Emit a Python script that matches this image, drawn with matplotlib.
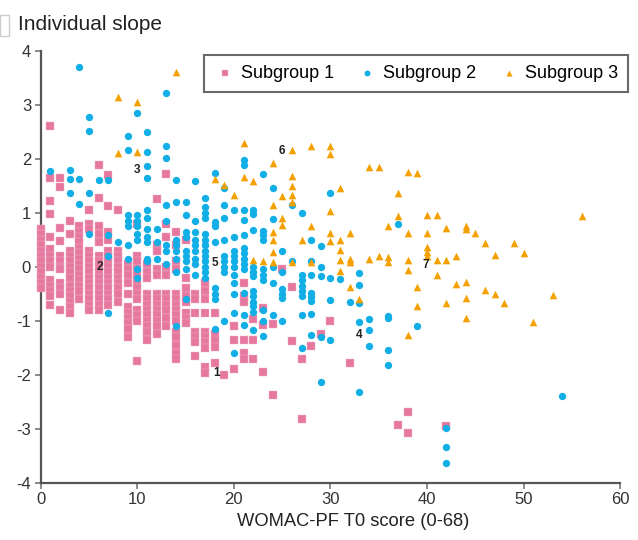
import matplotlib
matplotlib.use("Agg")
from matplotlib import pyplot
from matplotlib.patches import Rectangle

pyplot.rcParams["font.family"] = ["Liberation Sans", "DejaVu Sans"]
pyplot.rcParams["axes.unicode_minus"] = False

# Subgroup 1 (pink squares): x = T0 score, y = slope
g1_x = ([0] * 12 + [1] * 14 + [2] * 12 + [3] * 14 + [4] * 14 + [5] * 15 + [6] * 16 + [7] * 15
        + [8] * 11 + [9] * 11 + [10] * 13 + [11] * 12 + [12] * 13 + [13] * 11 + [14] * 15
        + [15] * 8 + [16] * 7 + [17] * 10 + [18] * 5 + [19] + [20] * 3 + [21] * 6 + [22] * 3
        + [23] * 3 + [24] * 2 + [25] + [26] * 2 + [27] * 2 + [28] + [29] + [30] + [32]
        + [37] + [38] * 2 + [42])
g1_y = [0.7, 0.6, 0.5, 0.4, 0.3, 0.2, 0.1, 0.0, -0.1, -0.2, -0.3, -0.4,
        2.6, 1.65, 1.22, 0.98, 0.55, 0.33, 0.2, 0.1, 0.0, -0.25, -0.35, -0.45, -0.55, -0.7,
        1.65, 1.47, 0.72, 0.48, 0.2, 0.1, 0.0, -0.05, -0.3, -0.4, -0.5, -0.8,
        0.85, 0.6, 0.3, 0.2, 0.1, 0.0, -0.1, -0.2, -0.35, -0.45, -0.55, -0.65, -0.75, -0.85,
        0.75, 0.65, 0.55, 0.45, 0.35, 0.25, 0.15, 0.05, -0.05, -0.15, -0.25, -0.35, -0.45, -0.6,
        1.05, 0.8, 0.7, 0.3, 0.2, 0.1, 0.0, -0.1, -0.2, -0.3, -0.4, -0.5, -0.6, -0.7, -0.8,
        1.88, 1.27, 0.75, 0.6, 0.45, 0.2, 0.1, 0.0, -0.1, -0.2, -0.3, -0.4, -0.5, -0.6, -0.7, -0.8,
        1.7, 1.12, 0.65, 0.5, 0.3, 0.2, 0.1, 0.0, -0.1, -0.2, -0.3, -0.4, -0.5, -0.6, -0.7,
        1.05, 0.3, 0.2, 0.1, 0.0, -0.1, -0.2, -0.3, -0.4, -0.5, -0.65,
        0.05, -0.05, -0.15, -0.3, -0.5, -0.75, -0.85, -0.95, -1.05, -1.15, -1.3,
        0.8, 0.2, 0.1, -0.05, -0.15, -0.3, -0.4, -0.5, -0.6, -0.8, -0.9, -1.0, -1.75,
        0.05, -0.1, -0.2, -0.5, -0.6, -0.7, -0.8, -0.9, -1.0, -1.1, -1.2, -1.35,
        1.25, 0.4, 0.3, -0.05, -0.15, -0.5, -0.6, -0.7, -0.8, -0.9, -1.0, -1.1, -1.25,
        1.72, 0.8, 0.55, 0.0, -0.15, -0.5, -0.6, -0.7, -0.8, -0.95, -1.1,
        0.65, 0.4, 0.1, -0.05, -0.5, -0.6, -0.7, -0.8, -0.9, -1.0, -1.2, -1.3, -1.45, -1.6, -1.7,
        0.5, -0.2, -0.4, -0.55, -0.65, -0.85, -0.95, -1.05,
        -0.5, -0.6, -0.85, -1.2, -1.3, -1.4, -1.65,
        -0.3, -0.45, -0.6, -0.85, -1.2, -1.3, -1.4, -1.5, -1.85, -1.97,
        -0.85, -1.25, -1.35, -1.48, -1.78,
        -2.0,
        -1.1, -1.35, -1.9,
        -0.3, -0.55, -0.65, -1.35, -1.6, -1.7,
        -0.97, -1.36, -1.7,
        -0.77, -1.07, -1.94,
        -1.06, -2.38,
        -0.05,
        -0.38, -1.38,
        -1.71, -2.82,
        -1.46,
        -1.25,
        -1.0,
        -1.78,
        -2.93,
        -2.69, -3.08,
        -2.94]

# Subgroup 2 (blue circles)
g2_x = ([1] + [3] * 3 + [4] * 3 + [5] * 4 + [6] + [7] * 4 + [8] + [9] * 7 + [10] * 8 + [11] * 11
        + [12] * 3 + [13] * 8 + [14] * 8 + [15] * 9 + [16] * 9 + [17] * 13 + [18] * 8 + [19] * 9
        + [20] * 11 + [21] * 13 + [22] * 12 + [23] * 10 + [24] * 5 + [25] * 6 + [26] * 2 + [27] * 8
        + [28] * 8 + [29] * 5 + [30] * 4 + [31] + [32] + [33] * 5 + [34] * 3 + [36] * 4 + [37]
        + [39] + [42] * 3 + [54])
g2_y = [1.78,
        1.8, 1.63, 1.37,
        3.7, 1.63, 1.17,
        2.78, 2.52, 1.37, 0.6,
        1.6,
        1.6, 0.58, 0.2, -0.85,
        0.45,
        2.42, 2.16, 0.95, 0.85, 0.75, 0.4, 0.15,
        2.85, 0.95, 0.85, 0.75, 0.6, 0.5, -0.05, -0.2,
        2.5, 2.12, 1.86, 1.65, 1.05, 0.9, 0.7, 0.55, 0.45, 0.15, 0.1,
        0.7, 0.45, 0.15,
        3.22, 2.24, 2.02, 1.15, 0.85, 0.4, 0.3, 0.05,
        1.6, 1.2, 0.5, 0.4, 0.3, 0.15, -0.1, -1.1,
        1.2, 0.95, 0.65, 0.55, 0.3, 0.2, 0.1, -0.05, -0.6,
        1.58, 0.85, 0.65, 0.5, 0.4, 0.3, 0.15, 0.05, -0.15,
        1.28, 1.1, 1.0, 0.9, 0.6, 0.5, 0.4, 0.3, 0.2, 0.1, 0.0, -0.1, -0.2,
        1.73, 0.82, 0.75, 0.45, -0.4, -0.5, -0.6, -1.15,
        1.45, 1.15, 0.9, 0.5, 0.2, 0.1, 0.0, -0.1, -1.0,
        1.05, 0.55, 0.3, 0.2, 0.1, 0.0, -0.15, -0.3, -0.5, -0.85, -1.6,
        1.98, 1.89, 1.06, 0.86, 0.58, 0.35, 0.25, 0.15, 0.05, -0.05, -0.48, -0.89, -1.07,
        1.06, 0.97, 0.69, 0.0, -0.1, -0.18, -0.45, -0.55, -0.65, -0.73, -0.84, -1.17,
        1.71, 0.66, 0.58, 0.5, -0.05, -0.15, -0.24, -0.8, -1.01, -1.29,
        1.46, 0.88, 0.0, -0.3, -0.89,
        0.3, -0.1, -0.42, -0.5, -0.58, -1.0,
        1.15, 0.1,
        1.0, -0.15, -0.25, -0.35, -0.45, -0.55, -0.89, -1.5,
        0.5, 0.1, -0.15, -0.48, -0.56, -0.64, -0.88, -1.26,
        0.39, 0.0, -0.18, -1.3, -2.13,
        1.37, -0.21, -0.62, -1.35,
        -0.23,
        -0.66,
        -0.12, -0.33, -0.67, -1.03, -2.31,
        -0.96, -1.18, -1.46,
        -0.92, -0.95, -1.55, -1.81,
        0.79,
        -1.1,
        -2.99, -3.34, -3.64,
        -2.4]

# Subgroup 3 (orange triangles)
g3_x = ([8] * 2 + [10] * 2 + [14] + [18] + [19] + [20] + [21] * 2 + [22] * 2 + [23] + [24] * 6
        + [25] * 3 + [26] * 6 + [27] + [28] * 3 + [30] * 5 + [31] * 5 + [32] * 4 + [33] + [34] * 2
        + [35] * 2 + [36] * 3 + [37] * 2 + [38] * 5 + [39] * 3 + [40] * 5 + [41] * 3 + [42] * 3
        + [43] * 2 + [44] * 5 + [45] + [46] * 2 + [47] * 2 + [48] + [49] + [50] + [51] + [53] + [56])
g3_y = [3.15, 2.1,
        3.05, 2.12,
        3.6,
        1.62,
        1.52,
        1.32,
        2.3, 1.67,
        1.59, 0.12,
        0.1,
        1.93, 1.15, 0.64, 0.5, 0.27, 0.08,
        1.31, 0.9, 0.77,
        2.16, 1.68, 1.49, 1.33, 1.2, 0.08,
        0.5,
        2.23, 0.75, 0.08,
        2.23, 2.09, 1.03, 0.62, 0.47,
        1.46, 0.5, 0.31, 0.12, -0.08,
        0.63, 0.15, 0.08, -0.37,
        -0.6,
        1.84, 0.15,
        1.85, 0.2,
        0.75, 0.18, 0.08,
        1.37, 0.94,
        1.76, 0.62, 0.12, -0.06, -1.26,
        1.74, -0.37, -0.72,
        0.96, 0.62, 0.37, 0.28, 0.2,
        0.96, 0.12, -0.15,
        0.72, 0.12, -0.67,
        0.2, -0.31,
        0.76, 0.7, -0.29, -0.57, -0.94,
        0.62,
        0.44, -0.43,
        0.21, -0.51,
        -0.67,
        0.44,
        0.25,
        -1.03,
        -0.52,
        0.94]

# numbered example patients
case_ids = ["1", "2", "3", "4", "5", "6", "7"]
case_x = [18.2, 6.1, 10.0, 33.0, 18.0, 25.0, 39.9]
case_y = [-1.96, 0.0, 1.8, -1.26, 0.07, 2.15, 0.04]

fig = pyplot.figure(figsize=(6.38, 5.4), dpi=100)
ax = fig.add_axes([0.064, 0.106, 0.908, 0.8])

ax.scatter(g1_x, g1_y, marker="s", s=26, color="#e6789f", edgecolors="#f2b3c9", linewidths=0.3,
           label="Subgroup 1", clip_on=False, zorder=3)
ax.scatter(g2_x, g2_y, marker="o", s=28, color="#12aee6", linewidths=0, label="Subgroup 2", clip_on=False, zorder=4)
ax.scatter(g3_x, g3_y, marker="^", s=30, color="#f4a000", linewidths=0, label="Subgroup 3", clip_on=False, zorder=5)

for cid, cx, cy in zip(case_ids, case_x, case_y):
    ax.text(cx, cy, cid, fontsize=8.5, fontweight="bold", ha="center", va="center", color="#222222", zorder=6)

ax.set_xlim(0, 60)
ax.set_ylim(-4, 4)
ax.set_xticks(range(0, 61, 10))
ax.set_yticks(range(-4, 5))
for side in ["top", "right"]:
    ax.spines[side].set_visible(False)
for side in ["left", "bottom"]:
    ax.spines[side].set_color("#555555")
    ax.spines[side].set_linewidth(1.6)
ax.tick_params(direction="out", length=4, width=1.2, color="#777777", labelsize=12, labelcolor="#333333", pad=3)
ax.set_xlabel("WOMAC-PF T0 score (0-68)", fontsize=13.2, color="#222222")
ax.xaxis.set_label_coords(0.54, -0.07)

fig.text(18 / 638, 1 - 25 / 540, "Individual slope", fontsize=15, color="#222222", va="center", ha="left")
fig.patches.append(Rectangle((0, 1 - 36 / 540), 9 / 638, 21 / 540, transform=fig.transFigure,
                             fill=False, edgecolor="#cccccc", linewidth=1))

leg = ax.legend(loc="upper right", bbox_to_anchor=(628 / 638, 1 - 55 / 540), bbox_transform=fig.transFigure,
                borderaxespad=0, ncol=3, fontsize=13, frameon=True, fancybox=False, handletextpad=0.3,
                columnspacing=1.2, borderpad=0.55, handlelength=1.2, markerscale=0.8)
leg.get_frame().set_edgecolor("#444444")
leg.get_frame().set_linewidth(1.5)

pyplot.savefig("out.png", dpi=100)
